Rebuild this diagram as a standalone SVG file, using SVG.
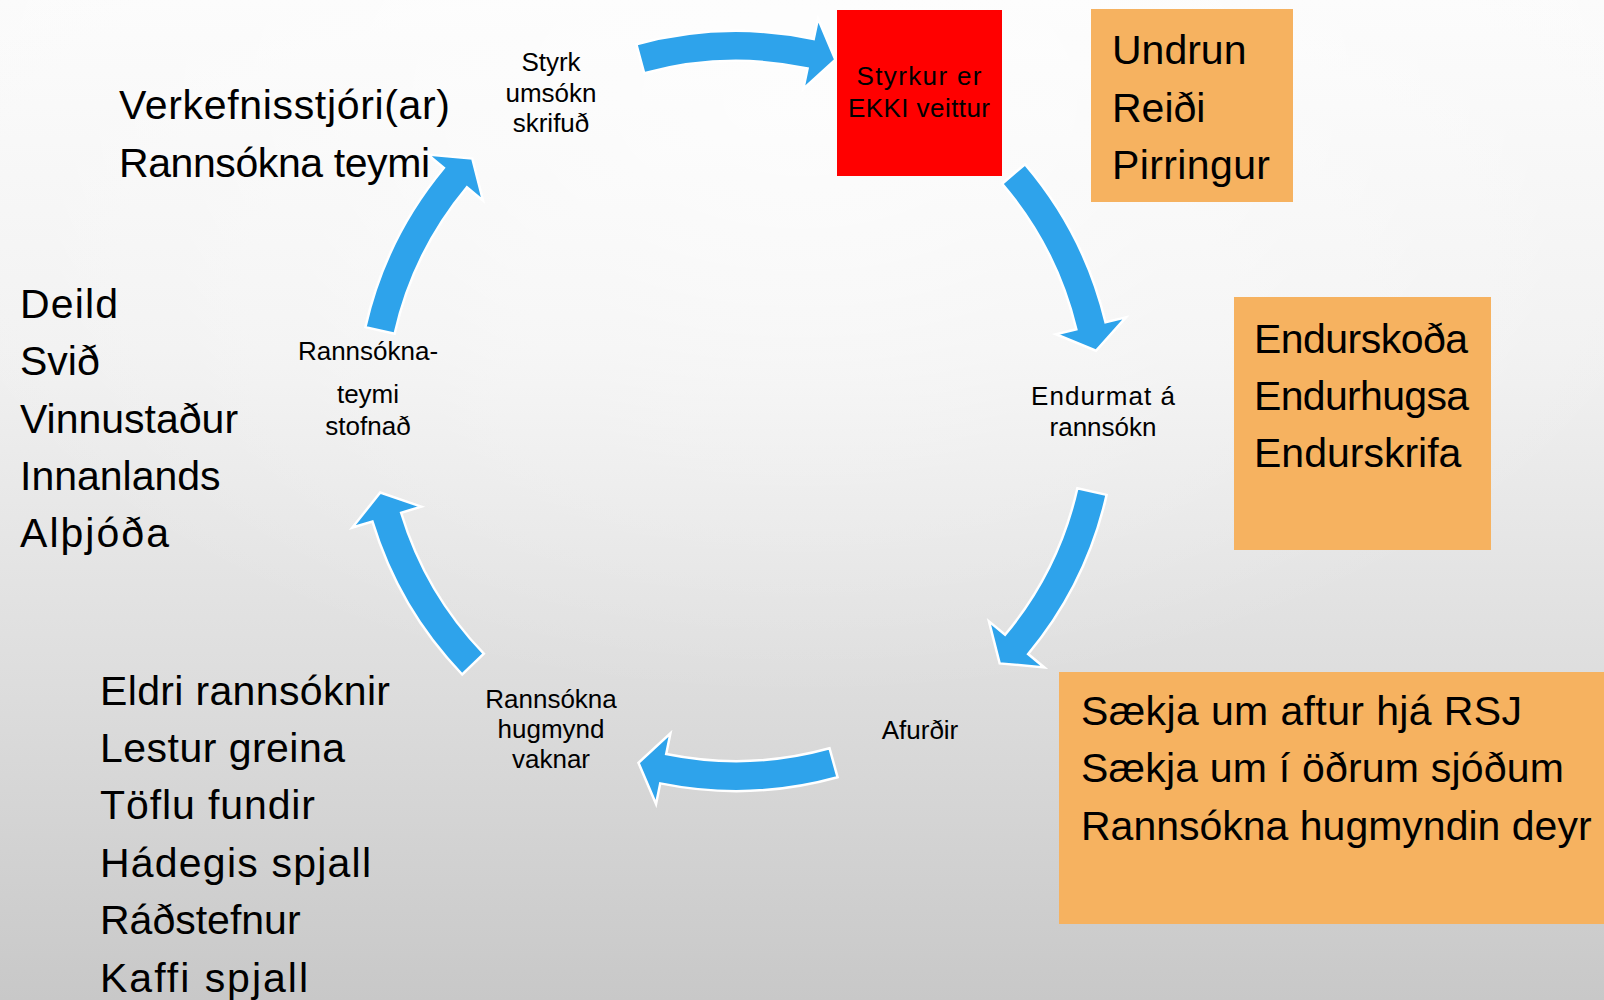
<svg xmlns="http://www.w3.org/2000/svg" xmlns:xlink="http://www.w3.org/1999/xlink" width="1604" height="1000" viewBox="0 0 1604 1000">
  <defs>
    <linearGradient id="bg" x1="0" y1="0" x2="0" y2="1">
      <stop offset="0" stop-color="#fbfbfb"/>
      <stop offset="0.35" stop-color="#f1f1f1"/>
      <stop offset="0.7" stop-color="#dcdcdc"/>
      <stop offset="1" stop-color="#c8c8c8"/>
    </linearGradient>
    <radialGradient id="glow" cx="0.5" cy="0.1" r="0.6">
      <stop offset="0" stop-color="#ffffff" stop-opacity="0.7"/>
      <stop offset="1" stop-color="#ffffff" stop-opacity="0"/>
    </radialGradient>
    <path id="arc-arrow" d="M366.18,-101.55 A380,380 0 0 1 372.37,75.76 L392.95,79.95 L351.72,97.54 L322.39,65.59 L342.97,69.78 A350,350 0 0 0 337.27,-93.53 Z"/>
    <style>
      .big { font-family: "Liberation Sans", Arial, sans-serif; font-size: 41px; fill: #000; }
      .small { font-family: "Liberation Sans", Arial, sans-serif; font-size: 26px; fill: #000; text-anchor: middle; }
      .orange { fill: #F6B260; }
      .arrow { fill: #2EA3EB; stroke: #ffffff; stroke-width: 2.5; stroke-linejoin: miter; }
    </style>
  </defs>

  <rect x="0" y="0" width="1604" height="1000" fill="url(#bg)"/>
  <rect x="0" y="0" width="1604" height="1000" fill="url(#glow)"/>

  <g id="connectors">
    <use xlink:href="#arc-arrow" href="#arc-arrow" class="arrow" transform="translate(736,411) rotate(-89.7)"/>
    <use xlink:href="#arc-arrow" href="#arc-arrow" class="arrow" transform="translate(736,411) rotate(-25)"/>
    <use xlink:href="#arc-arrow" href="#arc-arrow" class="arrow" transform="translate(736,411) rotate(28.25)"/>
    <use xlink:href="#arc-arrow" href="#arc-arrow" class="arrow" transform="translate(736,411) rotate(90)"/>
    <use xlink:href="#arc-arrow" href="#arc-arrow" class="arrow" transform="translate(736,411) rotate(151.6)"/>
    <use xlink:href="#arc-arrow" href="#arc-arrow" class="arrow" transform="translate(736,411) rotate(208.25)"/>
  </g>

  <g id="node-styrk-umsokn">
    <text class="small" x="551" y="71">Styrk</text>
    <text class="small" x="551" y="102">umsókn</text>
    <text class="small" x="551" y="132">skrifuð</text>
  </g>

  <g id="node-styrkur-ekki">
    <rect x="837" y="10" width="165" height="166" fill="#FF0000"/>
    <text class="small" x="919" y="85" textLength="125">Styrkur er</text>
    <text class="small" x="919" y="117" textLength="142">EKKI veittur</text>
  </g>

  <g id="node-endurmat">
    <text class="small" x="1103" y="405" textLength="144">Endurmat á</text>
    <text class="small" x="1103" y="436">rannsókn</text>
  </g>

  <g id="node-afurdir">
    <text class="small" x="920" y="739">Afurðir</text>
  </g>

  <g id="node-hugmynd">
    <text class="small" x="551" y="708">Rannsókna</text>
    <text class="small" x="551" y="738">hugmynd</text>
    <text class="small" x="551" y="768">vaknar</text>
  </g>

  <g id="node-teymi">
    <text class="small" x="368" y="360">Rannsókna-</text>
    <text class="small" x="368" y="403">teymi</text>
    <text class="small" x="368" y="435">stofnað</text>
  </g>

  <g id="box-tilfinningar">
    <rect class="orange" x="1091" y="9" width="202" height="193"/>
    <text class="big" x="1112" y="64">Undrun</text>
    <text class="big" x="1112" y="122">Reiði</text>
    <text class="big" x="1112" y="179" textLength="158">Pirringur</text>
  </g>

  <g id="box-endurskoda">
    <rect class="orange" x="1234" y="297" width="257" height="253"/>
    <text class="big" x="1254" y="353" textLength="214">Endurskoða</text>
    <text class="big" x="1254" y="410" textLength="215">Endurhugsa</text>
    <text class="big" x="1254" y="467">Endurskrifa</text>
  </g>

  <g id="box-saekja">
    <rect class="orange" x="1059" y="672" width="545" height="252"/>
    <text class="big" x="1081" y="725" textLength="441">Sækja um aftur hjá RSJ</text>
    <text class="big" x="1081" y="782" textLength="483">Sækja um í öðrum sjóðum</text>
    <text class="big" x="1081" y="840">Rannsókna hugmyndin deyr</text>
  </g>

  <g id="list-verkefni">
    <text class="big" x="119" y="119" textLength="331">Verkefnisstjóri(ar)</text>
    <text class="big" x="119" y="177" textLength="311">Rannsókna teymi</text>
  </g>

  <g id="list-deild">
    <text class="big" x="20" y="318" textLength="98">Deild</text>
    <text class="big" x="20" y="375">Svið</text>
    <text class="big" x="20" y="433">Vinnustaður</text>
    <text class="big" x="20" y="490">Innanlands</text>
    <text class="big" x="20" y="547" textLength="149">Alþjóða</text>
  </g>

  <g id="list-uppspretta">
    <text class="big" x="100" y="705" textLength="290">Eldri rannsóknir</text>
    <text class="big" x="100" y="762" textLength="245">Lestur greina</text>
    <text class="big" x="100" y="819" textLength="215">Töflu fundir</text>
    <text class="big" x="100" y="877" textLength="271">Hádegis spjall</text>
    <text class="big" x="100" y="934">Ráðstefnur</text>
    <text class="big" x="100" y="992" textLength="208">Kaffi spjall</text>
  </g>
</svg>
